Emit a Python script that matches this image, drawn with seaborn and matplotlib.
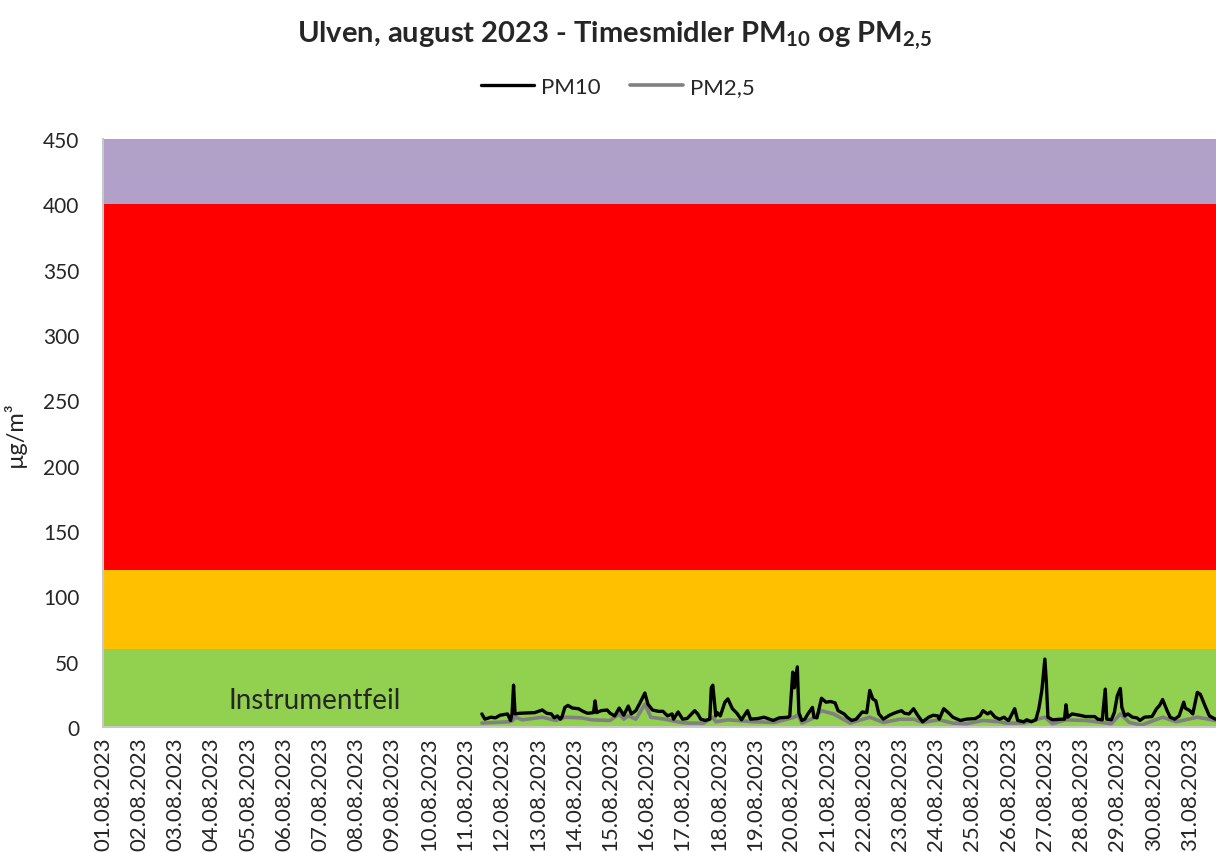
import matplotlib
matplotlib.use("Agg")
import matplotlib.pyplot as plt
import seaborn as sns

# Hours since 01.08.2023 00:00, values in µg/m3
PM10_HOURS = [251, 253, 257, 260, 263, 268, 270, 271, 272, 273, 276, 286, 291, 294, 297, 299, 301, 303, 304,
              306, 308, 311, 315, 318, 321, 325, 326, 327, 330, 334, 336, 339, 342, 345, 348, 350, 353, 356,
              359, 361, 364, 368, 371, 374, 377, 378, 381, 384, 387, 392, 394, 396, 399, 402, 403, 404, 406,
              407, 409, 412, 414, 417, 420, 423, 427, 429, 434, 438, 444, 448, 454, 455, 457, 458, 460, 461,
              463, 465, 467, 470, 471, 473, 476, 479, 482, 485, 487, 491, 493, 496, 499, 503, 506, 508, 510,
              512, 514, 517, 521, 525, 529, 531, 534, 537, 540, 543, 547, 550, 553, 554, 557, 560, 563, 568,
              572, 578, 581, 583, 586, 588, 591, 594, 597, 599, 600, 604, 606, 610, 612, 615, 618, 620, 622,
              624, 625, 626, 629, 635, 637, 638, 639, 642, 647, 651, 657, 659, 662, 664, 665, 668, 670, 672,
              674, 675, 677, 679, 682, 685, 687, 690, 695, 698, 700, 702, 705, 707, 710, 713, 716, 717, 720,
              722, 725, 727, 730, 733, 737, 743]
PM10_VALUES = [10, 6, 7.5, 7, 9, 10, 5, 10, 32, 10, 10.5, 11, 13, 10.5, 10, 7, 8.5, 6, 7.5,
               15, 16.5, 14.5, 14, 12, 10.5, 11, 20, 11, 12.5, 13, 10.5, 8.5, 14.5, 9, 16, 10, 12.5, 19,
               26, 17.5, 13, 12, 12, 8.5, 10, 6, 11.5, 6, 6.5, 12.5, 10, 6, 5, 6, 30, 32, 8.5,
               11, 8.5, 19, 21.5, 14, 10.5, 5.5, 12.5, 6, 6.5, 7.5, 5, 7, 7.5, 8.5, 42, 30, 46, 11,
               5, 6, 10, 15, 7.5, 7, 22, 19, 19.5, 18.5, 12.5, 10, 7.5, 5, 6, 11.5, 11, 28, 21.5,
               20, 10, 6, 9, 11, 12.5, 10.5, 10, 14, 8.5, 4, 7.5, 9, 8.5, 6, 14, 11, 7.5, 5,
               6, 6.5, 8.5, 12.5, 10, 11.5, 7.5, 6, 7.5, 5.5, 5, 14, 5, 4, 5.5, 4, 5.5, 14, 28,
               52, 34, 7.5, 5.5, 6, 6, 17, 7.5, 10, 9, 8, 8, 6, 5.5, 29, 6, 5.5, 11, 24,
               29.5, 15, 8.5, 10, 7.5, 7, 5, 7.5, 8, 14, 16.5, 21, 12.5, 7.5, 6, 8.5, 19, 14.5, 12.5,
               10, 26.5, 25, 16.5, 8.5, 6, 6]

PM25_HOURS = [251, 260, 269, 271, 273, 278, 291, 300, 306, 317, 324, 336, 342, 345, 348, 353, 359, 363,
              372, 383, 388, 398, 404, 406, 414, 431, 445, 458, 460, 461, 463, 470, 476, 484, 495, 508,
              517, 528, 537, 543, 554, 563, 572, 583, 594, 598, 610, 624, 629, 638, 651, 662, 668, 674,
              680, 688, 702, 711, 725, 737, 743]
PM25_VALUES = [3, 3.5, 4, 4.5, 7.5, 5.5, 7.5, 5, 7.5, 7, 5.5, 5, 10, 6, 8.5, 6, 17.5, 7.5,
               6, 3.5, 3, 3, 7.5, 4, 5.5, 4, 3.5, 7.5, 9, 8, 3, 6.5, 12.5, 10, 3, 7.5,
               3.5, 6, 6, 3.5, 5.5, 3, 2.5, 5, 4, 3, 3, 7.5, 2.5, 5.5, 5, 3.5, 2.5, 10,
               3.5, 1.5, 7.5, 4, 7.5, 5, 5]

DAY_LABELS = [f"{d:02d}.08.2023" for d in range(1, 32)]
BAND_LIMITS = [0, 60, 120, 400, 450]
BAND_COLORS = ["#92D050", "#FFC000", "#FF0000", "#B1A0C7"]

sns.set_style("white")
plt.rcParams["font.family"] = ["Lato", "DejaVu Sans"]
plt.rcParams["mathtext.fontset"] = "custom"
plt.rcParams["mathtext.rm"] = "Lato"
plt.rcParams["mathtext.bf"] = "Lato:bold"

fig = plt.figure(figsize=(12.16, 8.53), dpi=100)
# axes run past the right edge on purpose: the original is cut there
ax = fig.add_axes([103 / 1216, 125 / 853, 1123 / 1216, 588 / 853])

for lo, hi, c in zip(BAND_LIMITS[:-1], BAND_LIMITS[1:], BAND_COLORS):
    ax.axhspan(lo, hi, color=c, lw=0, zorder=0)

sns.lineplot(x=PM25_HOURS, y=PM25_VALUES, ax=ax, color="#808080", lw=2.6, label="PM2,5")
sns.lineplot(x=PM10_HOURS, y=PM10_VALUES, ax=ax, color="black", lw=2.4, label="PM10")

ax.text(140, 21, "Instrumentfeil", fontsize=20, ha="center", va="center")

ax.set_xlim(0, 744)
ax.set_ylim(0, 450)
ax.set_xticks(range(0, 744, 24))
ax.set_xticklabels(DAY_LABELS, rotation=90, fontsize=16)
ax.set_yticks(range(0, 451, 50))
ax.tick_params(axis="y", labelsize=15, length=0, pad=17)
ax.tick_params(axis="x", length=0, pad=7)
ax.set_xlabel("")
ax.set_ylabel("µg/m³", fontsize=17, labelpad=12)
for s in ["top", "right"]:
    ax.spines[s].set_visible(False)
for s in ["left", "bottom"]:
    ax.spines[s].set_color("#C8C8C8")
    ax.spines[s].set_linewidth(1.5)

h, l = ax.get_legend_handles_labels()
ax.get_legend().remove()
fig.legend(h[::-1], l[::-1], loc="center", bbox_to_anchor=(0.508, 1 - 88 / 853), ncol=2,
           frameon=False, fontsize=16, handlelength=2.4, columnspacing=1.3, handletextpad=0.3)

fig.text(0.505, 1 - 36 / 853,
         r"Ulven, august 2023 - Timesmidler PM$_{\mathbf{10}}$ og PM$_{\mathbf{2{,}5}}$",
         ha="center", va="center", fontsize=21, fontweight="bold")

fig.savefig("out.png", dpi=100)
